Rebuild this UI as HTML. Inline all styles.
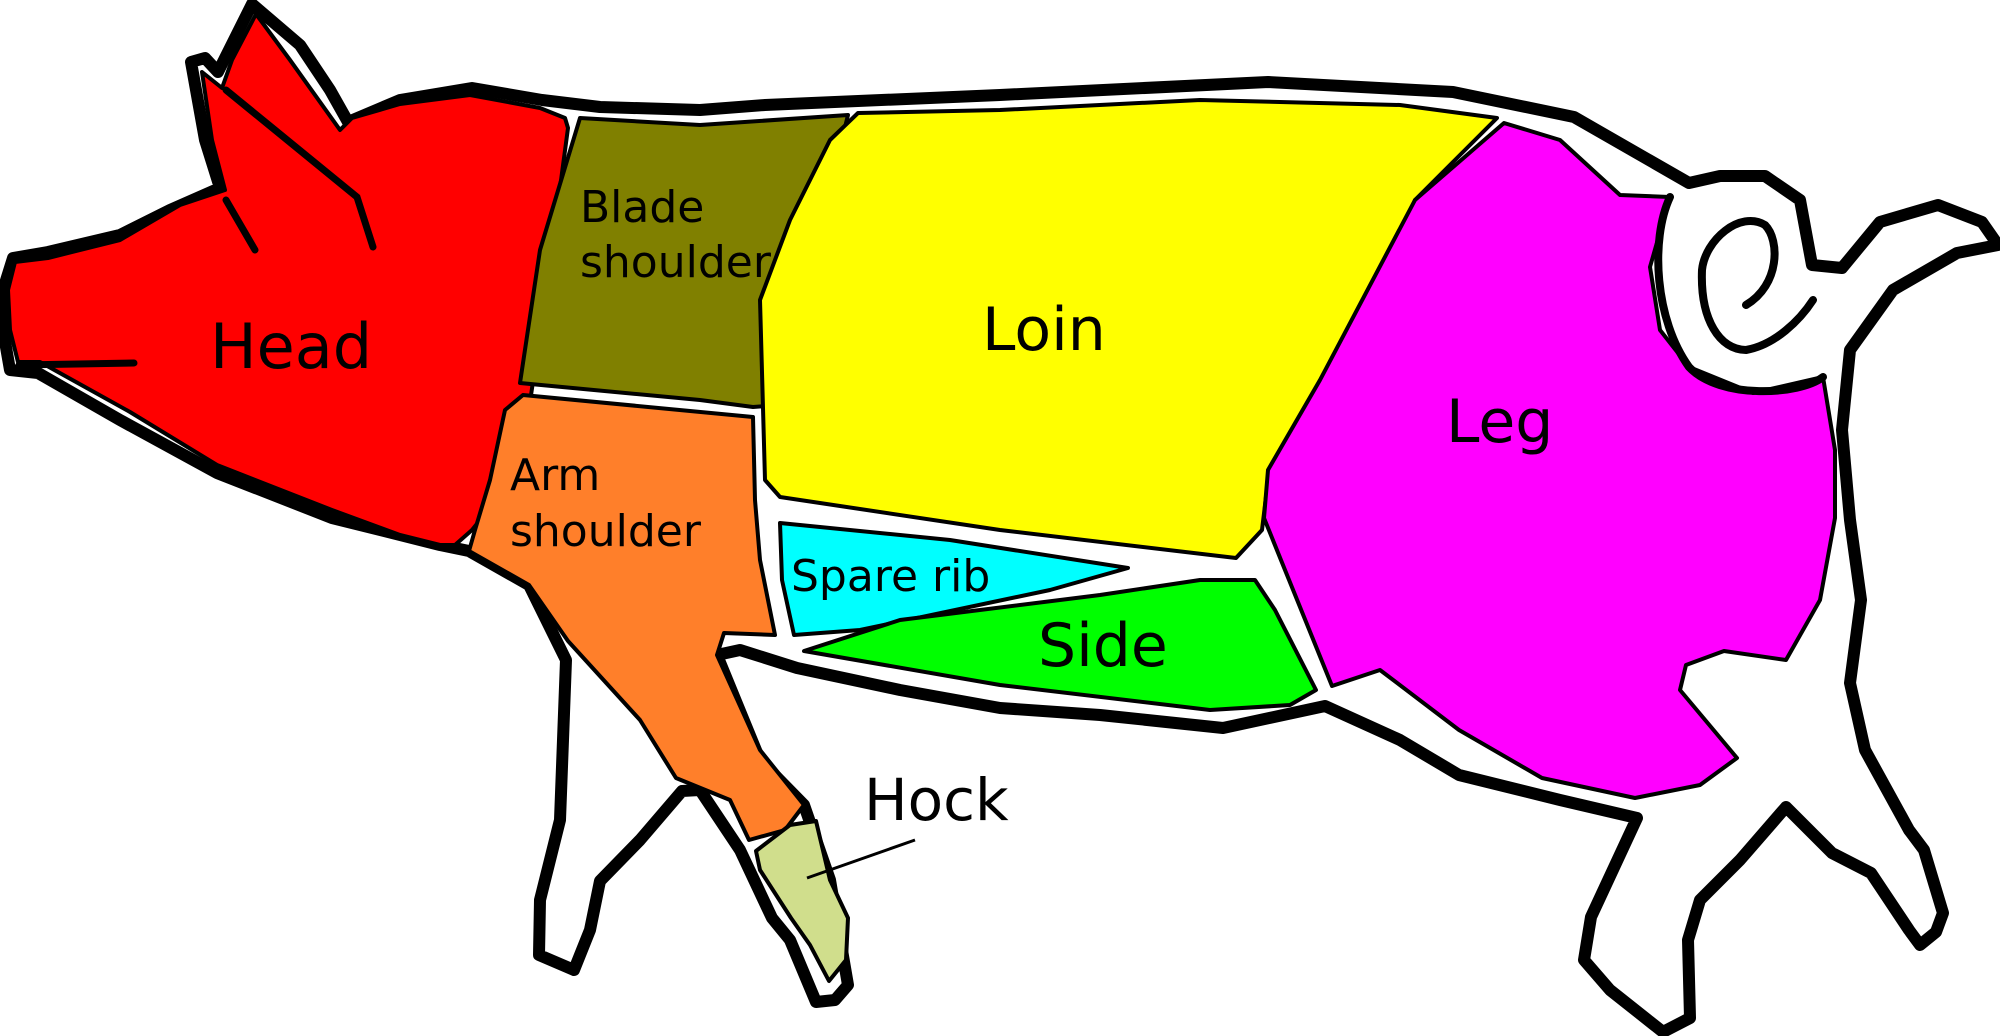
<!DOCTYPE html>
<html><head><meta charset="utf-8"><style>
html,body{margin:0;padding:0;background:#fff;width:2000px;height:1036px;overflow:hidden}
svg text{font-family:"DejaVu Sans","Liberation Sans",sans-serif;fill:#000}
</style></head><body>
<svg width="2000" height="1036" viewBox="0 0 2000 1036">
<g stroke="#000" stroke-width="12" fill="#fff" stroke-linejoin="round">
<path d="M252,4 L300,45 L330,90 L348,122 L400,100 L472,88 L542,100 L600,107 L700,110 L765,105 L1000,95 L1268,82 L1453,92 L1574,117 L1689,183 L1720,176 L1765,176 L1800,200 L1812,265 L1842,268 L1880,222 L1938,205 L1982,222 L1998,245 L1957,253 L1893,290 L1850,350 L1842,430 L1850,520 L1861,600 L1850,683 L1865,750 L1909,830 L1924,850 L1943,913 L1936,932 L1920,945 L1909,930 L1871,873 L1832,853 L1786,807 L1740,860 L1700,900 L1688,940 L1690,1018 L1663,1032 L1610,990 L1584,960 L1591,917 L1637,818 L1560,800 L1459,775 L1400,740 L1325,706 L1223,728 L1100,715 L1000,708 L900,690 L797,668 L740,650 L717,655 L760,760 L804,805 L830,880 L848,985 L835,1000 L816,1002 L790,940 L772,918 L740,850 L700,790 L682,791 L640,840 L600,881 L590,930 L574,970 L539,955 L540,900 L560,820 L566,660 L529,585 L469,551 L440,545 L332,518 L217,473 L120,420 L38,373 L10,370 L3,330 L3,290 L13,258 L48,252 L120,235 L170,210 L220,188 L205,140 L191,62 L205,58 L218,72 Z"/>
</g>
<g stroke="#000" stroke-width="4" stroke-linejoin="round">
<path fill="#ff0000" d="M256,14 L290,60 L340,130 L352,118 L400,104 L470,95 L540,108 L565,118 L568,128 L545,300 L520,470 L472,530 L455,545 L440,545 L400,535 L332,510 L217,465 L130,412 L40,362 L18,362 L10,330 L8,290 L15,262 L48,258 L120,240 L180,205 L225,190 L212,140 L202,72 L222,88 L232,60 Z"/>
<path fill="#808000" d="M580,118 L700,125 L848,115 L815,250 L790,330 L780,405 L753,407 L700,400 L520,383 L540,250 Z"/>
<path fill="#ffff00" d="M858,113 L1000,110 L1200,100 L1400,105 L1497,118 L1480,135 L1415,200 L1340,380 L1268,480 L1262,530 L1236,558 L1000,530 L780,497 L765,480 L760,300 L790,220 L830,140 Z"/>
<path fill="#ff00ff" d="M1504,123 L1560,140 L1620,195 L1670,197 L1650,267 L1660,330 L1689,367 L1753,393 L1823,377 L1835,450 L1835,518 L1820,600 L1786,660 L1724,651 L1686,665 L1680,690 L1737,758 L1700,785 L1635,798 L1542,778 L1459,730 L1380,670 L1332,686 L1285,570 L1264,518 L1268,470 L1320,380 L1415,200 Z"/>
<path fill="#ff7f2a" d="M523,395 L753,417 L755,500 L760,560 L775,635 L724,633 L717,655 L760,750 L804,805 L785,830 L749,840 L730,800 L676,778 L640,720 L568,641 L529,585 L469,551 L475,530 L490,480 L505,410 Z"/>
<path fill="#00ffff" d="M780,523 L950,540 L1128,568 L1050,590 L860,630 L794,635 L782,580 Z"/>
<path fill="#00ff00" d="M1255,580 L1275,610 L1316,690 L1290,705 L1210,710 L1000,685 L804,651 L900,620 L1100,595 L1200,580 Z"/>
<path fill="#d0de8c" d="M756,851 L790,825 L816,821 L830,880 L848,918 L846,960 L829,981 L810,945 L791,918 L760,870 Z"/>
</g>
<g fill="none" stroke="#000" stroke-width="7" stroke-linecap="round">
<path d="M226,90 L357,197 L373,247"/>
<path d="M226,200 L255,250"/>
<path d="M19,365 L134,363"/>
</g>
<g fill="none" stroke="#000" stroke-width="8" stroke-linecap="round">
<path d="M1670,197 C1650,240 1655,320 1689,367 C1720,400 1800,395 1823,377"/>
<path d="M1746,305 C1780,285 1780,240 1765,225 C1740,210 1705,240 1702,270 C1700,320 1720,350 1746,350 C1775,345 1800,320 1813,300"/>
</g>
<line x1="807" y1="878" x2="915" y2="840" stroke="#000" stroke-width="3"/>
<text x="210" y="368" font-size="62">Head</text>
<text x="580" y="222" font-size="44">Blade</text>
<text x="580" y="277" font-size="44">shoulder</text>
<text x="982" y="350" font-size="60">Loin</text>
<text x="1446" y="442" font-size="60">Leg</text>
<text x="510" y="490" font-size="44">Arm</text>
<text x="510" y="546" font-size="44">shoulder</text>
<text x="791" y="591" font-size="44">Spare rib</text>
<text x="1038" y="666" font-size="60">Side</text>
<text x="864" y="820" font-size="58">Hock</text>
</svg>
</body></html>
